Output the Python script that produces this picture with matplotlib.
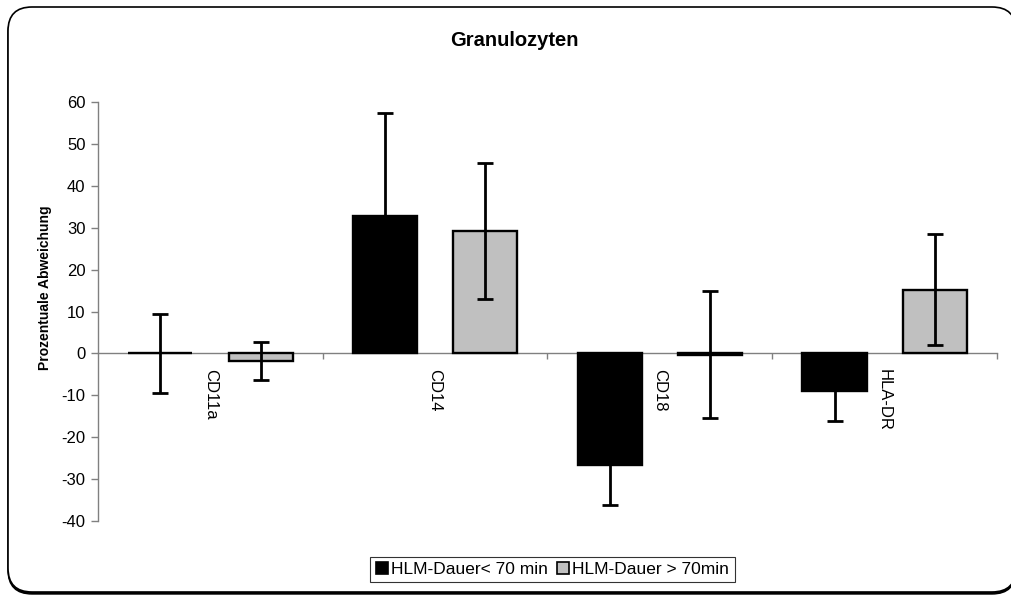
import matplotlib
matplotlib.use("Agg")
import matplotlib.pyplot as plt
import numpy as np
from matplotlib.patches import FancyBboxPatch, Patch

plt.rcParams['font.family'] = ['Liberation Sans', 'DejaVu Sans']

categories = ["CD11a", "CD14", "CD18", "HLA-DR"]
short_mean = [0.0, 32.8, -26.6, -8.9]
short_err = [9.5, 24.5, 9.6, 7.3]
long_mean = [-1.8, 29.2, -0.3, 15.2]
long_err = [4.6, 16.2, 15.1, 13.2]
series_labels = ["HLM-Dauer< 70 min", "HLM-Dauer > 70min"]
y_ticks = [-40, -30, -20, -10, 0, 10, 20, 30, 40, 50, 60]

W, H = 1012, 595
fig = plt.figure(figsize=(W / 100, H / 100), dpi=100)
fig.patch.set_facecolor("white")

# rounded outer frame with a small drop shadow
shadow = FancyBboxPatch((8, 1), 1008, 585, boxstyle="round,pad=0,rounding_size=24",
                        transform=None, facecolor="black", edgecolor="black",
                        linewidth=1.0, zorder=-3)
frame = FancyBboxPatch((8, 3), 1008, 585, boxstyle="round,pad=0,rounding_size=24",
                       transform=None, facecolor="white", edgecolor="black",
                       linewidth=1.2, zorder=-2)
fig.patches.extend([shadow, frame])

ax = fig.add_axes([98 / W, (H - 521) / H, (997 - 98) / W, (521 - 102) / H])
ax.set_facecolor("none")

x = np.arange(len(categories))
width = 0.285
pos_short = x + 0.277
pos_long = x + 0.724

err_kw = dict(ecolor="black", elinewidth=2, capsize=5.5, capthick=2)
ax.bar(pos_short, short_mean, width, color="black", edgecolor="black",
       linewidth=1.7, yerr=short_err, error_kw=err_kw, zorder=3,
       label=series_labels[0])
ax.bar(pos_long, long_mean, width, color="#c0c0c0", edgecolor="black",
       linewidth=1.7, yerr=long_err, error_kw=err_kw, zorder=3,
       label=series_labels[1])

ax.set_xlim(0, 4)
ax.set_ylim(-40, 60)
ax.set_yticks(y_ticks)
ax.set_yticklabels([str(v) for v in y_ticks], fontsize=12)

axis_grey = "#808080"
for s in ["top", "right"]:
    ax.spines[s].set_visible(False)
ax.spines["left"].set_color(axis_grey)
ax.spines["left"].set_linewidth(1.0)
ax.spines["bottom"].set_position(("data", 0))
ax.spines["bottom"].set_color(axis_grey)
ax.spines["bottom"].set_linewidth(1.0)
ax.spines["bottom"].set_zorder(2)

ax.tick_params(axis="y", direction="out", length=5, width=1, color=axis_grey, pad=4)
ax.set_xticks([1, 2, 3, 4])
ax.set_xticklabels([])
ax.tick_params(axis="x", which="major", direction="out", length=4, width=1, color=axis_grey)
ax.set_xticks(x + 0.5, minor=True)
ax.set_xticklabels(categories, minor=True, rotation=270, fontsize=12,
                   va="top", ha="center")
ax.tick_params(axis="x", which="minor", length=0, pad=11)

fig.text(45 / W, 1 - 288 / H, "Prozentuale Abweichung", rotation=90,
         fontsize=10, fontweight="bold", ha="center", va="center")
fig.text(514 / W, 1 - 40 / H, "Granulozyten", fontsize=14.5, fontweight="bold",
         ha="center", va="center")

handles = [Patch(facecolor="black", edgecolor="black", linewidth=1.2),
           Patch(facecolor="#c0c0c0", edgecolor="black", linewidth=1.2)]
leg = fig.legend(handles, series_labels, loc="center", ncol=2,
                 bbox_to_anchor=(552.5 / W, 1 - 569.5 / H), fontsize=12.5,
                 frameon=True, fancybox=False, handlelength=0.7,
                 handleheight=0.7, handletextpad=0.2, columnspacing=0.5,
                 borderpad=0.3, borderaxespad=0)
leg.get_frame().set_edgecolor("black")
leg.get_frame().set_linewidth(0.8)

fig.savefig("out.png", dpi=100)
